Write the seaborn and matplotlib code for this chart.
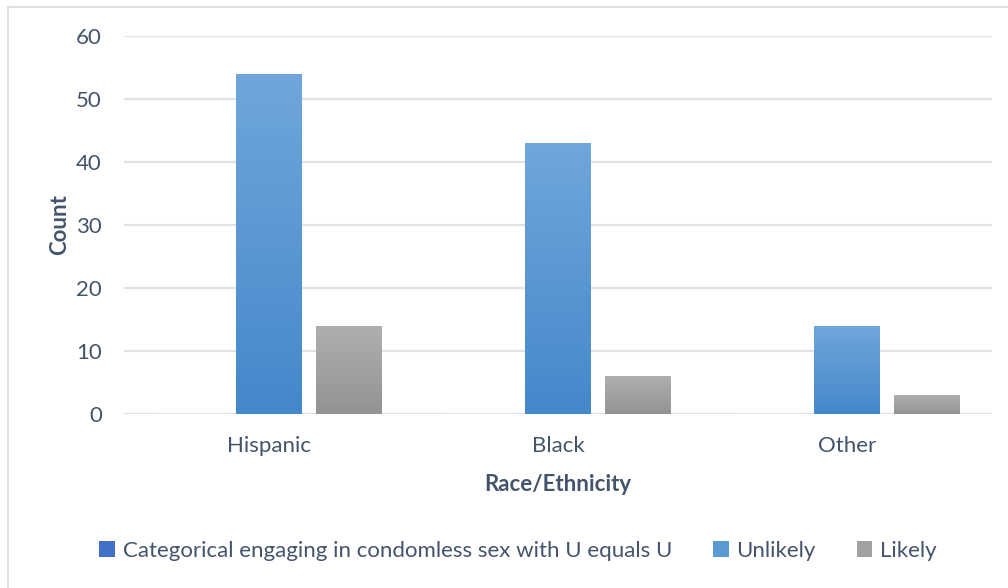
import numpy as np
import pandas as pd
import matplotlib
matplotlib.use("Agg")
import matplotlib.pyplot as plt
import seaborn as sns
from matplotlib.patches import Patch, Rectangle
from matplotlib.colors import to_rgb

# --- data ---------------------------------------------------------------
categories = ["Hispanic", "Black", "Other"]
series = ["Categorical engaging in condomless sex with U equals U", "Unlikely", "Likely"]
categorical_vals = [0, 0, 0]
unlikely_vals = [54, 43, 14]
likely_vals = [14, 6, 3]
y_ticks = [0, 10, 20, 30, 40, 50, 60]

df = pd.DataFrame({
    "Race/Ethnicity": categories * 3,
    "Series": [s for s in series for _ in categories],
    "Count": categorical_vals + unlikely_vals + likely_vals,
})

# --- style --------------------------------------------------------------
sns.set_theme(style="white")
plt.rcParams["font.family"] = ["Lato", "DejaVu Sans"]
text_color = "#44546a"
grid_color = "#dfe3e8"
fs = 16

# (top, bottom) gradient colours for each series
gradients = [("#5b86d2", "#3a66b8"), ("#70a6dc", "#4488ca"), ("#afafaf", "#939393")]
legend_colors = ["#4270c8", "#5b9bd5", "#a2a2a2"]

fig = plt.figure(figsize=(10.08, 5.88), dpi=100)
ax = fig.add_axes([124 / 1008, 1 - 414 / 588, 868 / 1008, 378 / 588])

sns.barplot(
    data=df, x="Race/Ethnicity", y="Count", hue="Series",
    order=categories, hue_order=series,
    palette=[g[1] for g in gradients],
    width=0.828, gap=0.175, ax=ax, legend=False,
)

# vertical gradient fill inside each bar
for cont, (top_c, bot_c) in zip(ax.containers, gradients):
    t = np.array(to_rgb(top_c))
    b = np.array(to_rgb(bot_c))
    ramp = np.linspace(0, 1, 256)[:, None, None]
    img = t * (1 - ramp) + b * ramp
    for bar in cont:
        h = bar.get_height()
        if h <= 0:
            continue
        x0 = bar.get_x()
        w = bar.get_width()
        bar.set_facecolor("none")
        bar.set_edgecolor("none")
        im = ax.imshow(img, extent=[x0, x0 + w, 0, h], aspect="auto",
                       origin="upper", zorder=2, interpolation="bilinear")
        im.set_clip_path(bar)

ax.set_xlim(-0.5, 2.5)
ax.set_ylim(0, 60)
ax.set_yticks(y_ticks)
ax.yaxis.grid(True, color=grid_color, linewidth=1.6)
ax.set_axisbelow(True)
for sp in ax.spines.values():
    sp.set_visible(False)

ax.tick_params(axis="y", length=0, pad=16, labelsize=fs, labelcolor=text_color)
ax.tick_params(axis="x", length=0, pad=16, labelsize=fs, labelcolor=text_color)

ax.set_ylabel("Count", fontsize=fs, fontweight="bold", color=text_color, labelpad=4)
ax.set_xlabel("Race/Ethnicity", fontsize=fs, fontweight="bold", color=text_color, labelpad=13)

handles = [Patch(facecolor=c, edgecolor="none") for c in legend_colors]
fig.legend(
    handles, series, loc="center", bbox_to_anchor=(518 / 1008, 1 - 551 / 588),
    ncol=3, frameon=False, fontsize=fs, labelcolor=text_color,
    handlelength=0.7, handleheight=0.7, handletextpad=0.35, columnspacing=1.85,
)

# light chart-area border
fig.patches.append(Rectangle((7.5 / 1008, -0.05), 1.2, 1 - 7.5 / 588 + 0.05,
                             transform=fig.transFigure, fill=False,
                             edgecolor="#d9d9d9", linewidth=1.2))

fig.savefig("out.png", dpi=100)
